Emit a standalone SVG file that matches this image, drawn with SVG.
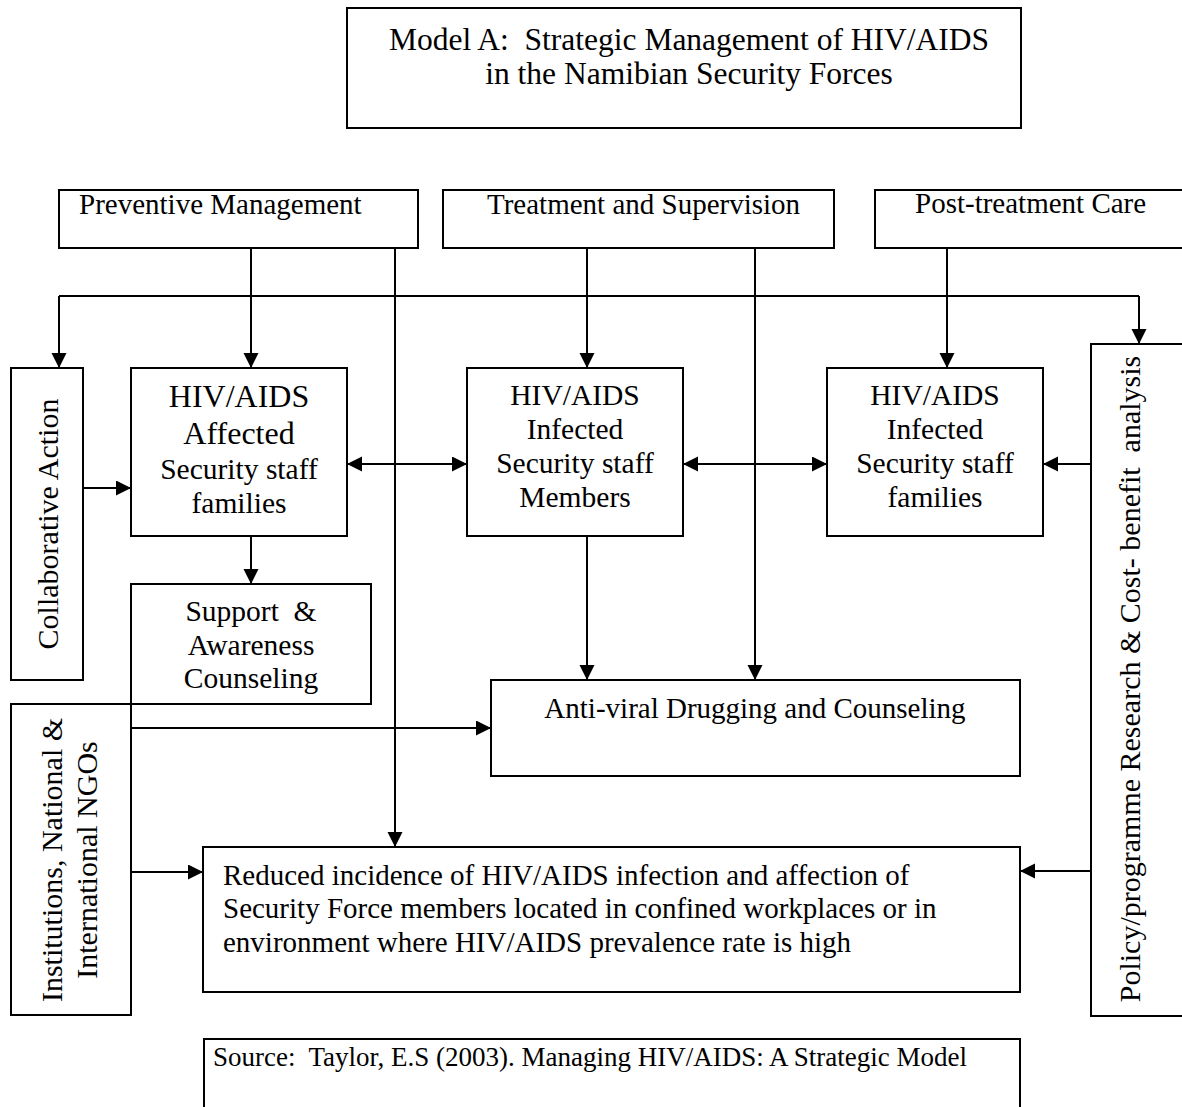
<svg xmlns="http://www.w3.org/2000/svg" width="1182" height="1107" viewBox="0 0 1182 1107">
<style>
text{font-family:"Liberation Serif","Times New Roman",serif;fill:#000;white-space:pre}
.box{fill:#fff;stroke:#000;stroke-width:2}
.hd{font-size:29px}
.bx{font-size:29.5px;text-anchor:middle}
.big{font-size:32px;text-anchor:middle}
.vt{font-size:30px;text-anchor:middle}
.con{fill:none;stroke:#000;stroke-width:2}
</style>
<defs>
<marker id="ah" markerUnits="userSpaceOnUse" markerWidth="16" markerHeight="16" refX="14" refY="7.5" orient="auto-start-reverse">
<path d="M0,0 L15,7.5 L0,15 z" fill="#000"/>
</marker>
</defs>
<rect width="1182" height="1107" fill="#fff"/>

<g id="connectors">
<path class="con" d="M59,296 H1139"/>
<path class="con" d="M59,296 V367" marker-end="url(#ah)"/>
<path class="con" d="M1139,296 V343" marker-end="url(#ah)"/>
<path class="con" d="M251,248 V367" marker-end="url(#ah)"/>
<path class="con" d="M395,248 V846" marker-end="url(#ah)"/>
<path class="con" d="M587,248 V367" marker-end="url(#ah)"/>
<path class="con" d="M755,248 V679" marker-end="url(#ah)"/>
<path class="con" d="M947,248 V367" marker-end="url(#ah)"/>
<path class="con" d="M83,488 H130" marker-end="url(#ah)"/>
<path class="con" d="M348,464 H466" marker-start="url(#ah)" marker-end="url(#ah)"/>
<path class="con" d="M684,464 H826" marker-start="url(#ah)" marker-end="url(#ah)"/>
<path class="con" d="M1091,464 H1044" marker-end="url(#ah)"/>
<path class="con" d="M251,536 V583" marker-end="url(#ah)"/>
<path class="con" d="M587,536 V679" marker-end="url(#ah)"/>
<path class="con" d="M131,728 H490" marker-end="url(#ah)"/>
<path class="con" d="M131,872 H202" marker-end="url(#ah)"/>
<path class="con" d="M1091,871 H1021" marker-end="url(#ah)"/>
</g>

<g id="title">
<rect class="box" x="347" y="8" width="674" height="120"/>
<text x="689" y="50" font-size="31.5" text-anchor="middle">Model A:  Strategic Management of HIV/AIDS</text>
<text x="689" y="84" font-size="31.5" text-anchor="middle">in the Namibian Security Forces</text>
</g>

<g id="preventive">
<rect class="box" x="59" y="190" width="359" height="58"/>
<text class="hd" x="79" y="214">Preventive Management</text>
</g>

<g id="treatment">
<rect class="box" x="443" y="190" width="391" height="58"/>
<text class="hd" x="487" y="214">Treatment and Supervision</text>
</g>

<g id="posttreatment">
<rect class="box" x="875" y="190" width="320" height="58"/>
<text class="hd" x="915" y="213">Post-treatment Care</text>
</g>

<g id="collaborative">
<rect class="box" x="11" y="368" width="72" height="312"/>
<text class="vt" transform="translate(58,524) rotate(-90)">Collaborative Action</text>
</g>

<g id="affected">
<rect class="box" x="131" y="368" width="216" height="168"/>
<text class="big" x="239" y="407">HIV/AIDS</text>
<text class="big" x="239" y="444">Affected</text>
<text class="bx" x="239" y="479">Security staff</text>
<text class="bx" x="239" y="513">families</text>
</g>

<g id="members">
<rect class="box" x="467" y="368" width="216" height="168"/>
<text class="bx" x="575" y="405">HIV/AIDS</text>
<text class="bx" x="575" y="439">Infected</text>
<text class="bx" x="575" y="473">Security staff</text>
<text class="bx" x="575" y="507">Members</text>
</g>

<g id="families">
<rect class="box" x="827" y="368" width="216" height="168"/>
<text class="bx" x="935" y="405">HIV/AIDS</text>
<text class="bx" x="935" y="439">Infected</text>
<text class="bx" x="935" y="473">Security staff</text>
<text class="bx" x="935" y="507">families</text>
</g>

<g id="policy">
<rect class="box" x="1091" y="344" width="110" height="672"/>
<text class="vt" transform="translate(1140,679) rotate(-90)">Policy/programme Research &amp; Cost- benefit  analysis</text>
</g>

<g id="support">
<rect class="box" x="131" y="584" width="240" height="120"/>
<text class="bx" x="251" y="621">Support  &amp;</text>
<text class="bx" x="251" y="655">Awareness</text>
<text class="bx" x="251" y="688">Counseling</text>
</g>

<g id="institutions">
<rect class="box" x="11" y="704" width="120" height="311"/>
<text class="vt" transform="translate(62,860) rotate(-90)">Institutions, National &amp;</text>
<text class="vt" transform="translate(97,860) rotate(-90)">International NGOs</text>
</g>

<g id="antiviral">
<rect class="box" x="491" y="680" width="529" height="96"/>
<text x="755" y="718" font-size="29" text-anchor="middle">Anti-viral Drugging and Counseling</text>
</g>

<g id="reduced">
<rect class="box" x="203" y="847" width="817" height="145"/>
<text x="223" y="885" font-size="29">Reduced incidence of HIV/AIDS infection and affection of</text>
<text x="223" y="918" font-size="29">Security Force members located in confined workplaces or in</text>
<text x="223" y="952" font-size="29">environment where HIV/AIDS prevalence rate is high</text>
</g>

<g id="source">
<rect class="box" x="204" y="1039" width="816" height="80"/>
<text x="213" y="1066" font-size="27">Source:  Taylor, E.S (2003). Managing HIV/AIDS: A Strategic Model</text>
</g>
</svg>
